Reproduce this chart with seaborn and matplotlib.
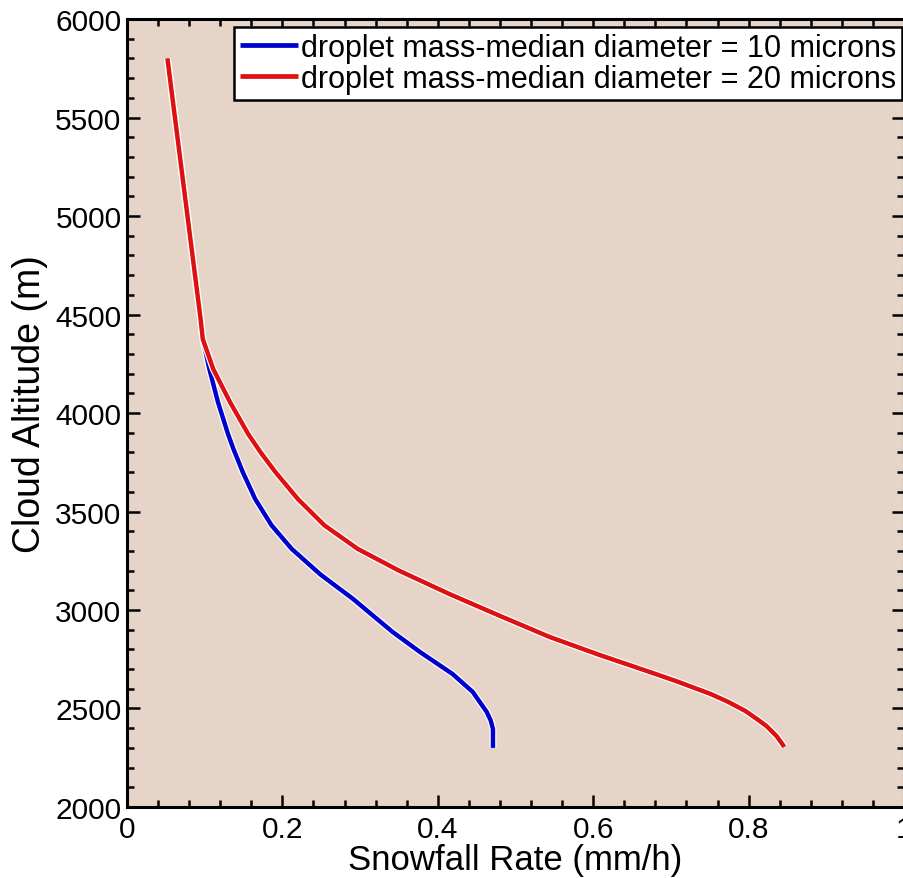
import numpy as np
import pandas as pd
import matplotlib
matplotlib.use("Agg")
import matplotlib.pyplot as plt
import matplotlib.patheffects as pe
from matplotlib.ticker import MultipleLocator
import seaborn as sns

# Data
alt_10 = [5800, 4477, 4376, 4223, 4056, 3893, 3817, 3700, 3563, 3430, 3310, 3180, 3056, 2970, 2888, 2787, 2675, 2584, 2482, 2440, 2396, 2300]
rate_10 = [0.052, 0.0947, 0.0975, 0.106, 0.117, 0.130, 0.137, 0.149, 0.165, 0.186, 0.212, 0.249, 0.291, 0.317, 0.342, 0.377, 0.419, 0.445, 0.463, 0.468, 0.471, 0.471]

alt_20 = [5800, 4477, 4376, 4223, 4056, 3893, 3800, 3700, 3563, 3430, 3310, 3200, 3081, 2970, 2863, 2772, 2685, 2640, 2574, 2533, 2487, 2440, 2411, 2360, 2305]
rate_20 = [0.052, 0.0947, 0.0975, 0.111, 0.1325, 0.156, 0.172, 0.191, 0.220, 0.254, 0.297, 0.350, 0.415, 0.480, 0.544, 0.608, 0.673, 0.706, 0.751, 0.774, 0.796, 0.813, 0.823, 0.836, 0.846]

labels = ["droplet mass-median diameter = 10 microns",
          "droplet mass-median diameter = 20 microns"]

df = pd.concat([
    pd.DataFrame({"rate": rate_10, "alt": alt_10, "series": labels[0]}),
    pd.DataFrame({"rate": rate_20, "alt": alt_20, "series": labels[1]}),
], ignore_index=True)

sns.set_theme(style="ticks")
plt.rcParams["font.family"] = ["Liberation Sans", "DejaVu Sans"]
plt.rcParams["text.color"] = "black"

fig = plt.figure(figsize=(9.04, 8.79), dpi=100)
ax = fig.add_axes([0.1405, 0.0808, 0.8595, 0.8964])
ax.set_facecolor("#E6D4C8")

sns.lineplot(data=df, x="rate", y="alt", hue="series", sort=False,
             palette=["#0000CC", "#DD1111"], linewidth=3.2, ax=ax,
             estimator=None)
for line in ax.get_lines():
    line.set_path_effects([pe.Stroke(linewidth=5.0, foreground="white"), pe.Normal()])
    line.set_solid_capstyle("butt")
    line.set_solid_joinstyle("round")

ax.set_xlim(0, 1)
ax.set_ylim(2000, 6000)
ax.xaxis.set_minor_locator(MultipleLocator(0.04))
ax.yaxis.set_major_locator(MultipleLocator(500))
ax.yaxis.set_minor_locator(MultipleLocator(100))
ax.set_xticks([0, 0.2, 0.4, 0.6, 0.8, 1.0])
ax.set_xticklabels(["0", "0.2", "0.4", "0.6", "0.8", "1"])
ax.tick_params(which="both", direction="in", top=True, right=True, color="black", width=1.8)
ax.tick_params(which="major", length=9, labelsize=21.5, pad=6, colors="black")
ax.tick_params(which="minor", length=5)
ax.tick_params(axis="y", which="major", pad=4)
for s in ax.spines.values():
    s.set_color("black")
    s.set_linewidth(2.2)

ax.set_xlabel("Snowfall Rate (mm/h)", fontsize=25, labelpad=0, color="black")
ax.set_ylabel("Cloud Altitude (m)", fontsize=27, color="black")
ax.yaxis.set_label_coords(-0.102, 0.513)

leg = ax.legend(loc="upper right", bbox_to_anchor=(0.998, 0.99), fontsize=22,
                frameon=True, fancybox=False,
                handlelength=1.9, handletextpad=0.1, borderpad=0.2,
                labelspacing=0.02, borderaxespad=0.0, title=None)
leg.get_frame().set_edgecolor("black")
leg.get_frame().set_linewidth(1.8)
leg.get_frame().set_facecolor("white")
leg.get_frame().set_alpha(1)
for t in leg.get_texts():
    t.set_color("black")
for h in leg.get_lines():
    h.set_linewidth(3.4)
    h.set_path_effects([])

fig.savefig("out.png", dpi=100)
